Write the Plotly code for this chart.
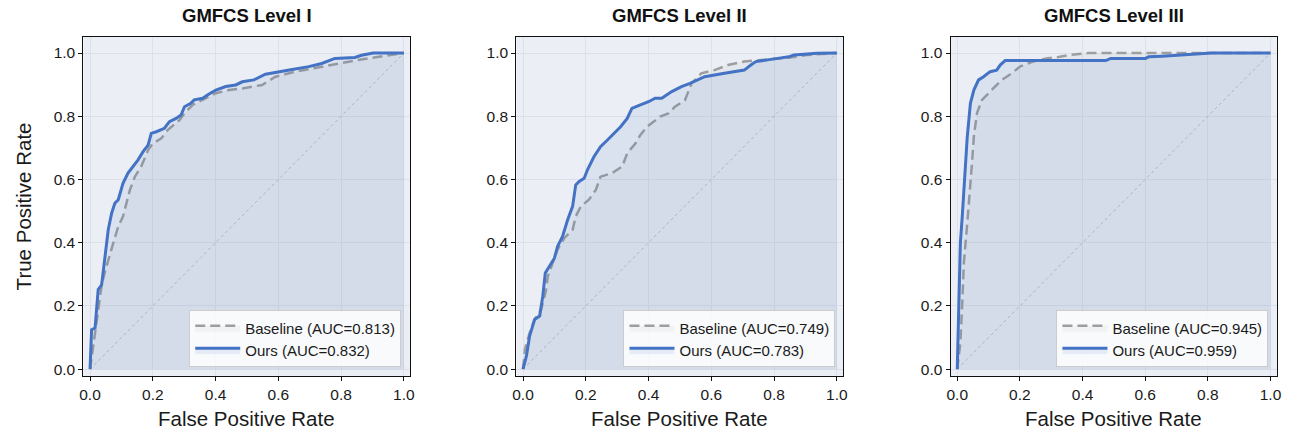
import plotly.graph_objects as go

# ---------------- data ----------------
titles = ["GMFCS Level I", "GMFCS Level II", "GMFCS Level III"]
auc_base = [0.813, 0.749, 0.945]
auc_ours = [0.832, 0.783, 0.959]

fpr1_base = [0, 0.016, 0.026, 0.037, 0.048, 0.061, 0.074, 0.09, 0.105, 0.116, 0.127, 0.143, 0.163, 0.185, 0.2,
             0.227, 0.248, 0.285, 0.301, 0.327, 0.359, 0.401, 0.443, 0.485, 0.548, 0.591, 0.654, 0.707, 0.759,
             0.791, 0.854, 0.886, 0.928, 1.0]
tpr1_base = [0, 0.12, 0.2, 0.265, 0.31, 0.357, 0.399, 0.452, 0.483, 0.525, 0.567, 0.609, 0.641, 0.693, 0.714,
             0.73, 0.757, 0.788, 0.809, 0.836, 0.852, 0.873, 0.883, 0.888, 0.899, 0.925, 0.941, 0.951, 0.962,
             0.967, 0.978, 0.983, 0.99, 1.0]
fpr1_ours = [0, 0.005, 0.016, 0.026, 0.037, 0.048, 0.058, 0.069, 0.079, 0.09, 0.105, 0.121, 0.137, 0.153, 0.169,
             0.185, 0.195, 0.211, 0.237, 0.253, 0.274, 0.29, 0.301, 0.321, 0.332, 0.359, 0.374, 0.401, 0.432,
             0.464, 0.485, 0.522, 0.559, 0.591, 0.644, 0.697, 0.738, 0.78, 0.844, 0.865, 0.902, 1.0]
tpr1_ours = [0, 0.125, 0.13, 0.252, 0.267, 0.357, 0.441, 0.494, 0.525, 0.536, 0.588, 0.62, 0.641, 0.662, 0.688,
             0.709, 0.746, 0.751, 0.762, 0.783, 0.793, 0.804, 0.83, 0.841, 0.852, 0.857, 0.867, 0.883, 0.894,
             0.899, 0.909, 0.915, 0.933, 0.938, 0.948, 0.957, 0.967, 0.983, 0.986, 0.993, 1.0, 1.0]

fpr2_base = [0, 0.006, 0.021, 0.037, 0.058, 0.074, 0.079, 0.095, 0.11, 0.132, 0.158, 0.168, 0.184, 0.21, 0.232,
             0.247, 0.284, 0.316, 0.332, 0.358, 0.374, 0.395, 0.416, 0.437, 0.463, 0.484, 0.516, 0.537, 0.568,
             0.61, 0.653, 0.705, 0.758, 0.853, 0.905, 1.0]
tpr2_base = [0, 0.063, 0.115, 0.157, 0.189, 0.252, 0.294, 0.336, 0.378, 0.415, 0.441, 0.483, 0.515, 0.536, 0.567,
             0.609, 0.62, 0.641, 0.683, 0.714, 0.741, 0.767, 0.783, 0.799, 0.809, 0.83, 0.851, 0.904, 0.936,
             0.946, 0.962, 0.973, 0.978, 0.986, 0.994, 1.0]
fpr2_ours = [0, 0.011, 0.021, 0.037, 0.053, 0.063, 0.071, 0.084, 0.1, 0.11, 0.126, 0.142, 0.158, 0.168, 0.179,
             0.195, 0.205, 0.226, 0.247, 0.269, 0.29, 0.311, 0.332, 0.347, 0.374, 0.4, 0.421, 0.442, 0.474,
             0.505, 0.532, 0.579, 0.642, 0.705, 0.726, 0.742, 0.79, 0.847, 0.863, 0.937, 1.0]
tpr2_ours = [0, 0.042, 0.105, 0.157, 0.168, 0.231, 0.304, 0.325, 0.351, 0.388, 0.42, 0.472, 0.515, 0.583, 0.594,
             0.604, 0.63, 0.672, 0.704, 0.725, 0.746, 0.767, 0.793, 0.825, 0.836, 0.846, 0.857, 0.857, 0.878,
             0.894, 0.904, 0.925, 0.936, 0.946, 0.962, 0.973, 0.98, 0.988, 0.994, 0.999, 1.0]

fpr3_base = [0, 0.01, 0.016, 0.021, 0.032, 0.042, 0.047, 0.053, 0.063, 0.079, 0.1, 0.121, 0.142, 0.174, 0.2,
             0.242, 0.284, 0.327, 0.358, 0.42, 1.0]
tpr3_base = [0, 0.084, 0.21, 0.336, 0.462, 0.578, 0.651, 0.736, 0.81, 0.852, 0.873, 0.894, 0.915, 0.936, 0.957,
             0.973, 0.983, 0.988, 0.994, 1.0, 1.0]
fpr3_ours = [0, 0.003, 0.006, 0.01, 0.016, 0.021, 0.026, 0.032, 0.042, 0.053, 0.068, 0.084, 0.105, 0.126, 0.137,
             0.153, 0.474, 0.49, 0.601, 0.611, 0.654, 0.811, 1.0]
tpr3_ours = [0, 0.1, 0.27, 0.4, 0.483, 0.557, 0.641, 0.736, 0.841, 0.883, 0.915, 0.925, 0.941, 0.946, 0.962,
             0.976, 0.976, 0.983, 0.983, 0.988, 0.99, 1.0, 1.0]

tick_vals = [0.0, 0.2, 0.4, 0.6, 0.8, 1.0]
tick_text = ["0.0", "0.2", "0.4", "0.6", "0.8", "1.0"]
x_title = "False Positive Rate"
y_title = "True Positive Rate"

panels = [
    (fpr1_base, tpr1_base, fpr1_ours, tpr1_ours),
    (fpr2_base, tpr2_base, fpr2_ours, tpr2_ours),
    (fpr3_base, tpr3_base, fpr3_ours, tpr3_ours),
]

# ---------------- layout geometry ----------------
W, H = 1294, 432
x_domains = [(80 / W, 409 / W), (516 / W, 845 / W), (953.3 / W, 1281.7 / W)]
y_domain = (1 - 377 / H, 1 - 37 / H)
legend_right = [400 / W, 837.3 / W, 1273.3 / W]
legend_bottom = 1 - 368.3 / H

FONT = "Liberation Sans, Arial, Helvetica, sans-serif"
BLUE = "#4472C4"
GREY = "#9E9E9E"

fig = go.Figure()
layout = dict(
    width=W, height=H, autosize=False,
    margin=dict(l=0, r=0, t=0, b=0),
    paper_bgcolor="white",
    plot_bgcolor="#EBEFF5",
    font=dict(family=FONT, color="#1a1a1a"),
    annotations=[],
)

for i, (fb, tb, fo, to) in enumerate(panels):
    n = "" if i == 0 else str(i + 1)
    xa, ya = "x" + n, "y" + n
    leg = "legend" + n
    fig.add_trace(go.Scatter(x=[0, 1], y=[0, 1], mode="lines", xaxis=xa, yaxis=ya,
                             line=dict(color="#BDBDBD", width=1, dash="dot"),
                             showlegend=False, hoverinfo="skip"))
    fig.add_trace(go.Scatter(x=fb, y=tb, mode="lines", xaxis=xa, yaxis=ya, legend=leg,
                             name=f"Baseline (AUC={auc_base[i]:.3f})", legendgroup=f"b{i}",
                             fill="tozeroy", fillcolor="rgba(150,150,150,0.08)",
                             line=dict(color=GREY, width=2.5, dash="10px,5px")))
    fig.add_trace(go.Scatter(x=fo, y=to, mode="lines", xaxis=xa, yaxis=ya, legend=leg,
                             name=f"Ours (AUC={auc_ours[i]:.3f})", legendgroup=f"o{i}",
                             fill="tozeroy", fillcolor="rgba(68,114,196,0.10)",
                             line=dict(color=BLUE, width=3)))
    axis_common = dict(
        showgrid=True, gridcolor="#DCE1E9", gridwidth=1, zeroline=False,
        showline=True, mirror=True, linecolor="#111111", linewidth=1.3,
        ticks="outside", ticklen=4, tickwidth=1, tickcolor="#111111",
        tickvals=tick_vals, ticktext=tick_text,
        tickfont=dict(size=15.5, family=FONT, color="#1a1a1a"),
    )
    layout["xaxis" + n] = dict(axis_common, domain=x_domains[i], range=[-0.021, 1.02], anchor=ya)
    layout["yaxis" + n] = dict(axis_common, domain=y_domain, range=[-0.022, 1.051], anchor=xa)
    layout[leg] = dict(
        x=legend_right[i], xanchor="right", y=legend_bottom, yanchor="bottom",
        bgcolor="rgba(255,255,255,0.85)", bordercolor="#CCCCCC", borderwidth=1,
        font=dict(size=15, family=FONT, color="#1a1a1a"),
        traceorder="grouped", tracegroupgap=0, itemwidth=45,
    )
    cx = (x_domains[i][0] + x_domains[i][1]) / 2
    layout["annotations"].append(dict(
        text=f"<b>{titles[i]}</b>", x=cx, y=1 - 16 / H, xref="paper", yref="paper",
        xanchor="center", yanchor="middle", showarrow=False,
        font=dict(size=18.5, family=FONT, color="#111111")))
    layout["annotations"].append(dict(
        text=x_title, x=cx, y=1 - 419 / H, xref="paper", yref="paper",
        xanchor="center", yanchor="middle", showarrow=False,
        font=dict(size=20.5, family=FONT, color="#1a1a1a")))

layout["annotations"].append(dict(
    text=y_title, x=20 / W, y=1 - 207 / H, xref="paper", yref="paper",
    xanchor="center", yanchor="middle", showarrow=False, textangle=-90,
    font=dict(size=20.5, family=FONT, color="#1a1a1a")))

fig.update_layout(**layout)
fig.write_html("out.html", config={"displayModeBar": False},
               post_script="document.body.style.margin='0';document.body.style.overflow='hidden';")
